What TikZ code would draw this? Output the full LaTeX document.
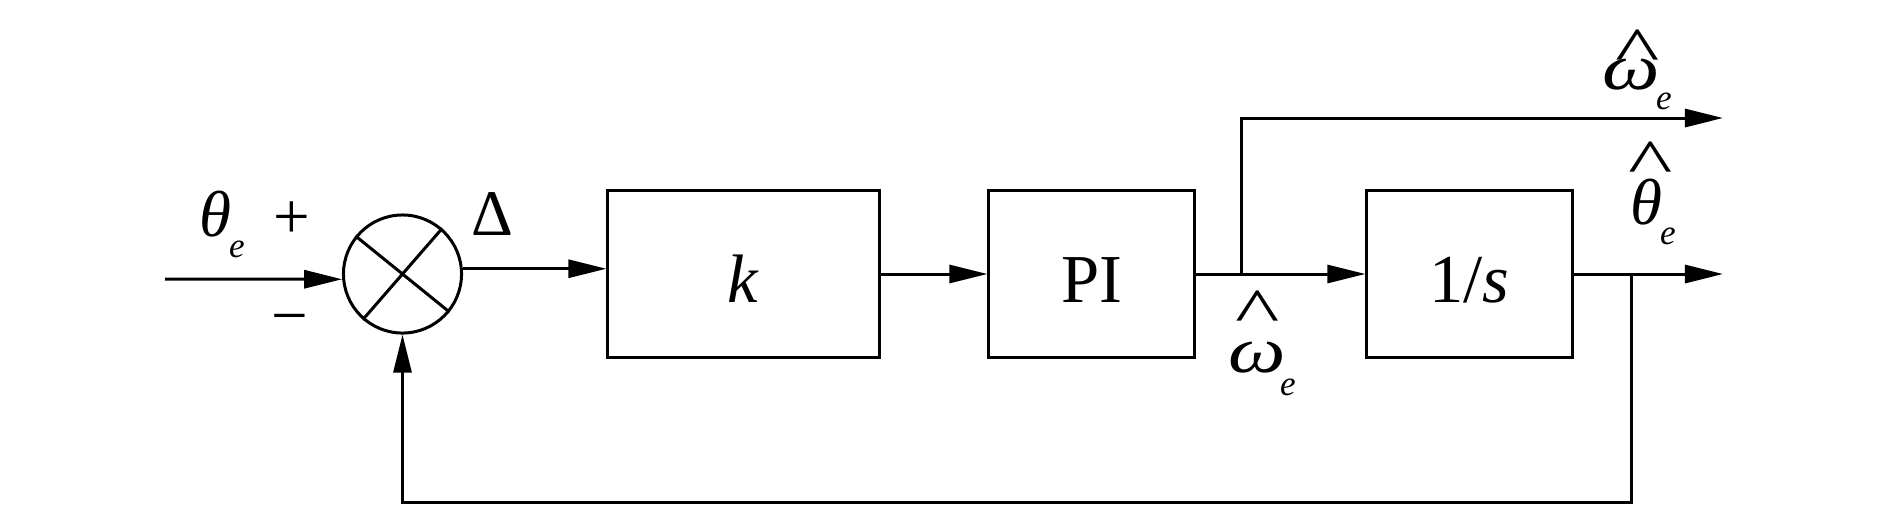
\documentclass[tikz,border=0pt]{standalone}
\usepackage{fontspec}
\setmainfont{Liberation Serif}
\usetikzlibrary{arrows.meta}
\newcommand{\widehatglyph}{\scalebox{1.45}[1]{\textasciicircum}}
\newcommand{\wideomega}{\scalebox{1.25}[1]{\textit{ω}}}
\begin{document}
\begin{tikzpicture}[x=0.01cm,y=-0.01cm,
  line width=0.03cm,
  arr/.style={-{Triangle[length=0.38cm,width=0.18cm]}},
  blk/.style={draw,rectangle,minimum height=1.66cm,inner sep=0pt,
    text height=0.56cm,text depth=0pt,font=\fontsize{19.5}{21}\selectfont},
  lbl/.style={inner sep=0pt,anchor=base,font=\fontsize{18.5}{20}\selectfont},
  sublbl/.style={inner sep=0pt,anchor=base,font=\fontsize{10}{11}\selectfont\itshape}]
\useasboundingbox (0,0) rectangle (1890,505);

% blocks
\node[draw,circle,minimum size=1.18cm,inner sep=0pt] (sum) at (402.5,274) {};
\draw (sum.141) -- (sum.321) (sum.49.6) -- (sum.229.6);
\node[blk,minimum width=2.71cm] (kb) at (743.5,274) {\textit{k}};
\node[blk,minimum width=2.05cm] (pib) at (1091.5,274) {PI};
\node[blk,minimum width=2.05cm] (ib) at (1469.5,274) {1/\textit{s}};

% coordinates
\coordinate (in) at (165,279);
\coordinate (j) at (1241,274);
\coordinate (t1) at (1241,118);
\coordinate (o1) at (1723,118);
\coordinate (tap) at (1631,274);
\coordinate (o2) at (1723,274);
\coordinate (fb) at (1631,502);

% connectors
\draw[arr] (in) -- (sum.185);
\draw[arr] (sum.5) -- (sum.5 -| kb.west);
\draw[arr] (kb.east) -- (pib.west);
\draw[arr] (pib.east) -- (ib.west);
\draw[arr] (j) -- (t1) -- (o1);
\draw[arr] (ib.east) -- (o2);
\draw[arr] (tap) -- (fb) -| (sum.south);

% labels
\node[lbl] (theta) at (215,236) {\textit{θ}};
\node[sublbl] (thetae) at (237,257) {e};
\node[lbl] (plus) at (292,238) {+};
\node[lbl] (minus) at (290,337) {−};
\node[lbl] (delta) at (492,235) {Δ};

\node[lbl] (w1hat) at (1638,72) {\widehatglyph};
\node[lbl] (w1) at (1631,89) {\wideomega};
\node[sublbl] (w1e) at (1664,109) {e};

\node[lbl] (th2hat) at (1651,184) {\widehatglyph};
\node[lbl] (th2) at (1646,224) {\textit{θ}};
\node[sublbl] (th2e) at (1668,244) {e};

\node[lbl] (w3hat) at (1258,333) {\widehatglyph};
\node[lbl] (w3) at (1257,372) {\wideomega};
\node[sublbl] (w3e) at (1288,395) {e};
\end{tikzpicture}
\end{document}
